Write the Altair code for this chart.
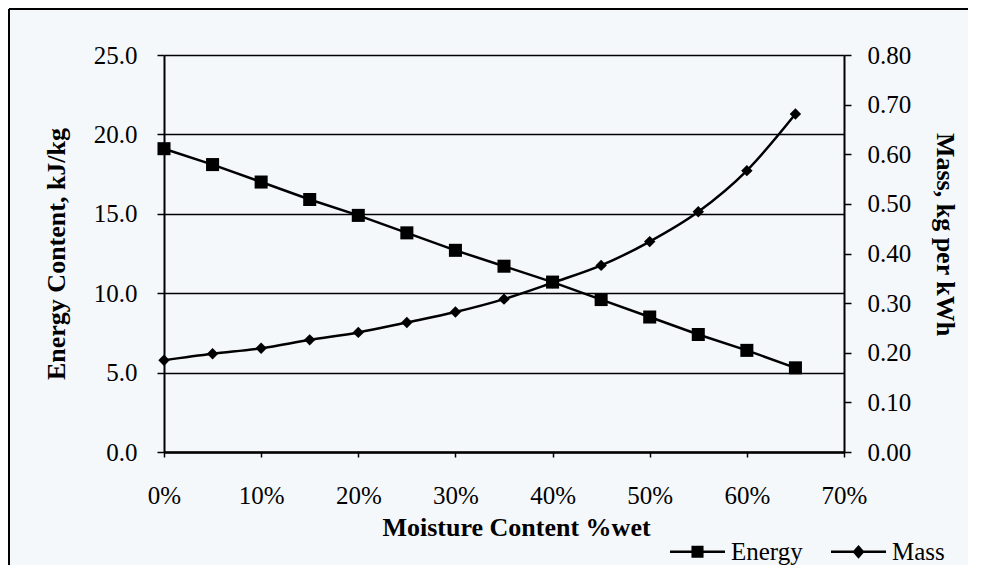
import altair as alt
import pandas as pd

# ---- data ----
moisture = [0.00, 0.05, 0.10, 0.15, 0.20, 0.25, 0.30, 0.35, 0.40, 0.45, 0.50, 0.55, 0.60, 0.65]
energy = [19.1, 18.1, 17.0, 15.9, 14.9, 13.8, 12.7, 11.7, 10.7, 9.6, 8.5, 7.4, 6.4, 5.3]
mass = [0.185, 0.198, 0.209, 0.226, 0.241, 0.261, 0.282, 0.308, 0.341, 0.376, 0.424, 0.484, 0.567, 0.681]
series_names = ["Energy", "Mass"]
x_ticks = [0.0, 0.1, 0.2, 0.3, 0.4, 0.5, 0.6, 0.7]
left_ticks = [0, 5, 10, 15, 20, 25]
right_ticks = [0.0, 0.1, 0.2, 0.3, 0.4, 0.5, 0.6, 0.7, 0.8]

df = pd.DataFrame({"moisture": moisture, "energy": energy, "mass": mass})
frame_df = pd.DataFrame({"k": [0]})

FONT = "Liberation Serif"
BG = "#f5f8fb"
W, H = 680, 397

x_enc = alt.X(
    "moisture:Q",
    scale=alt.Scale(domain=[0, 0.7], nice=False, zero=False),
    axis=alt.Axis(
        values=x_ticks, format=".0%", title="Moisture Content %wet",
        grid=False, domainColor="black", domainWidth=2.5,
        tickColor="black", tickSize=5, tickWidth=1.5,
        labelFont=FONT, labelFontSize=25, labelColor="black", labelPadding=26,
        labelFlush=False, labelOverlap=False,
        titleFont=FONT, titleFontSize=26, titleFontWeight="bold", titleColor="black",
        titlePadding=6, titleX=352,
    ),
)

y_left = alt.Y(
    "energy:Q",
    scale=alt.Scale(domain=[0, 25], nice=False),
    axis=alt.Axis(
        values=left_ticks, format=".1f", title="Energy Content, kJ/kg",
        grid=True, gridColor="black", gridWidth=1.5, gridOpacity=1,
        domainColor="black", domainWidth=2,
        tickColor="black", tickSize=7, tickWidth=1.5,
        labelFont=FONT, labelFontSize=25, labelColor="black", labelPadding=20,
        labelFlush=False, labelOverlap=False,
        titleFont=FONT, titleFontSize=26, titleFontWeight="bold", titleColor="black",
        titlePadding=24,
    ),
)

y_right = alt.Y(
    "mass:Q",
    scale=alt.Scale(domain=[0, 0.8], nice=False),
    axis=alt.Axis(
        orient="right", values=right_ticks, format=".2f", title="Mass, kg per kWh",
        grid=False, domainColor="black", domainWidth=2,
        tickColor="black", tickSize=7, tickWidth=1.5,
        labelFont=FONT, labelFontSize=25, labelColor="black", labelPadding=16,
        labelFlush=False, labelOverlap=False,
        titleFont=FONT, titleFontSize=26, titleFontWeight="bold", titleColor="black",
        titlePadding=21, titleY=179,
    ),
)

base = alt.Chart(df)

energy_line = base.mark_line(color="black", strokeWidth=2.5).encode(x=x_enc, y=y_left)
energy_pts = base.mark_point(shape="square", filled=True, size=170, color="black", opacity=1).encode(x=x_enc, y=y_left)

mass_line = base.mark_line(color="black", strokeWidth=2.5, interpolate="monotone").encode(x=x_enc, y=y_right)
mass_pts = base.mark_point(shape="diamond", filled=True, size=130, color="black", opacity=1).encode(x=x_enc, y=y_right)

path_energy = "M-1,-0.045H1V0.045H-1Z M-0.22,-0.22H0.22V0.22H-0.22Z"
path_mass = "M-1,-0.045H1V0.045H-1Z M0,-0.25L0.22,0L0,0.25L-0.22,0Z"

legend_layer = (
    base.transform_calculate(series="'Energy'")
    .transform_filter("false")
    .mark_point(filled=True, color="black", opacity=1)
    .encode(
        x=x_enc,
        y=y_left,
        shape=alt.Shape(
            "series:N",
            scale=alt.Scale(domain=series_names, range=[path_energy, path_mass]),
            legend=alt.Legend(
                orient="none", legendX=506, legendY=469, direction="horizontal",
                title=None, symbolSize=3025, symbolStrokeWidth=0,
                symbolFillColor="black", symbolOpacity=1,
                labelFont=FONT, labelFontSize=25, labelColor="black",
                labelOffset=6, columnPadding=28, padding=0,
            ),
        ),
    )
)

frame_top = alt.Chart(frame_df).mark_rule(color="black", strokeWidth=2).encode(
    x=alt.value(-155), x2=alt.value(1000), y=alt.value(-46)
)
frame_left = alt.Chart(frame_df).mark_rule(color="black", strokeWidth=2).encode(
    x=alt.value(-155), y=alt.value(-46), y2=alt.value(700)
)

left = alt.layer(energy_line, energy_pts, legend_layer)
right = alt.layer(mass_line, mass_pts)

chart = (
    alt.layer(frame_top, frame_left, left, right)
    .resolve_scale(y="independent")
    .properties(
        width=W, height=H,
        autosize=alt.AutoSizeParams(type="none"),
        padding={"left": 156, "top": 47, "right": 124, "bottom": 113},
        background=BG,
    )
    .configure_view(stroke=None, fill=BG)
)

chart.save("out.html", embed_options={"renderer": "svg", "actions": False})
